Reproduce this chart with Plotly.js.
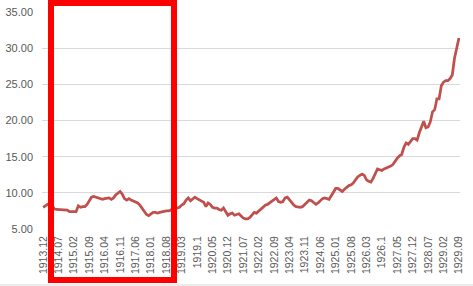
<!DOCTYPE html>
<html>
<head>
<meta charset="utf-8">
<script src="https://cdn.plot.ly/plotly-3.0.1.min.js"></script>
<style>html,body{margin:0;padding:0;background:#fff;}#chart{width:473px;height:286px;}</style>
</head>
<body>
<div id="chart"></div>
<script>
// Monthly values, 1913.12 .. 1929.09 (190 months)
const values = [
  8.0, 8.2, 8.4, 8.6, 8.4, 7.8, 7.7, 7.7, 7.7, 7.7,
  7.7, 7.6, 7.4, 7.4, 7.3, 7.4, 8.2, 8.0, 8.1, 8.1,
  8.4, 8.9, 9.4, 9.5, 9.4, 9.3, 9.2, 9.1, 9.2, 9.3,
  9.3, 9.1, 9.3, 9.7, 9.9, 10.2, 9.8, 9.2, 9.0, 9.2,
  9.0, 8.9, 8.8, 8.6, 8.3, 7.9, 7.4, 7.0, 6.85, 7.1,
  7.3, 7.3, 7.2, 7.3, 7.4, 7.4, 7.5, 7.5, 7.6, 7.9,
  7.8, 7.9, 8.0, 8.3, 8.5, 9.0, 9.3, 8.9, 9.1, 9.4,
  9.2, 9.0, 8.9, 8.7, 8.1, 8.6, 8.4, 8.0, 7.9, 7.9,
  7.7, 7.6, 7.9, 7.3, 6.9, 7.1, 7.2, 6.9, 7.0, 7.1,
  6.8, 6.5, 6.4, 6.4, 6.6, 7.0, 7.3, 7.2, 7.5, 7.8,
  8.0, 8.3, 8.4, 8.6, 8.9, 9.1, 9.3, 8.8, 8.7, 8.8,
  9.3, 9.4, 9.0, 8.6, 8.3, 8.1, 8.0, 8.0, 8.1, 8.4,
  8.7, 9.0, 8.9, 8.6, 8.4, 8.6, 8.9, 9.2, 9.3, 9.2,
  9.1, 9.6, 10.2, 10.6, 10.6, 10.4, 10.2, 10.5, 10.8, 11.0,
  11.1, 11.35, 11.8, 12.2, 12.4, 12.6, 12.4, 11.8, 11.6, 11.5,
  12.0, 12.7, 13.3, 13.2, 13.1, 13.3, 13.4, 13.5, 13.7, 13.9,
  14.4, 14.8, 15.1, 15.3, 16.3, 16.9, 16.7, 17.1, 17.5, 17.5,
  17.3, 18.3, 19.2, 19.9, 19.0, 19.1, 19.8, 21.2, 21.5, 23.0,
  23.0, 24.8, 25.3, 25.5, 25.5, 25.8, 26.3, 28.6, 30.0, 31.4
];
const tickLabels = [
  "1913.12", "1914.07", "1915.02", "1915.09", "1916.04", "1916.11", "1917.06",
  "1918.01", "1918.08", "1919.03", "1919.1", "1920.05", "1920.12", "1921.07",
  "1922.02", "1922.09", "1923.04", "1923.11", "1924.06", "1925.01", "1925.08",
  "1926.03", "1926.1", "1927.05", "1927.12", "1928.07", "1929.02", "1929.09"
];
const tickStep = 7;
const xIdx = values.map((v, i) => i);
const tickPos = tickLabels.map((t, k) => k * tickStep);

const W = 473, H = 286, ML = 42, MR = 13, MT = 12, MB = 57;
const PW = W - ML - MR, PH = H - MT - MB;
const px = x => (x - ML) / PW;
const py = y => (H - MB - y) / PH;

const trace = {
  x: xIdx, y: values, type: 'scatter', mode: 'lines',
  line: {color: '#C0504D', width: 2.75},
  hoverinfo: 'skip'
};

const layout = {
  width: W, height: H,
  margin: {l: ML, r: MR, t: MT, b: MB, pad: 0},
  paper_bgcolor: '#ffffff', plot_bgcolor: '#ffffff',
  showlegend: false,
  font: {family: 'Liberation Sans, Arial, sans-serif', color: '#595959'},
  xaxis: {
    range: [-0.5, values.length - 0.5],
    tickmode: 'array', tickvals: tickPos, ticktext: tickLabels,
    tickangle: -90, tickfont: {size: 10.5, color: '#595959'},
    showgrid: false, zeroline: false, showline: false, ticks: '',
    ticklabelstandoff: 4, fixedrange: true
  },
  yaxis: {
    range: [5, 35], tickmode: 'linear', tick0: 5, dtick: 5,
    tickformat: '.2f', tickfont: {size: 11, color: '#595959'},
    showgrid: true, gridcolor: '#d9d9d9', gridwidth: 1,
    zeroline: false, showline: false, ticks: '',
    ticklabelstandoff: 8, fixedrange: true
  },
  shapes: [
    {type: 'line', xref: 'paper', yref: 'paper', x0: px(0), x1: px(W), y0: py(285), y1: py(285),
     line: {color: '#d9d9d9', width: 1}},
    {type: 'rect', xref: 'paper', yref: 'paper', layer: 'above',
     x0: px(51), x1: px(174), y0: py(280), y1: py(3),
     line: {color: '#FF0000', width: 6}, fillcolor: 'rgba(0,0,0,0)'}
  ]
};

Plotly.newPlot('chart', [trace], layout, {staticPlot: true, displayModeBar: false});
</script>
</body>
</html>
